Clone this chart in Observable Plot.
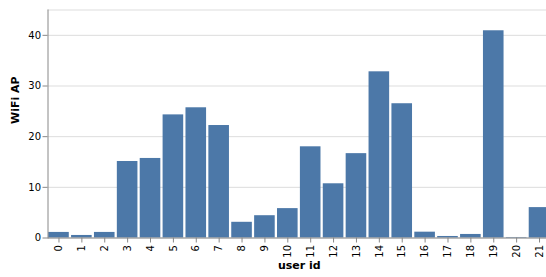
<!DOCTYPE html>
<html>
<head>
<meta charset="utf-8">
<script src="https://cdn.jsdelivr.net/npm/d3@7"></script>
<script src="https://cdn.jsdelivr.net/npm/@observablehq/plot@0.6"></script>
<style>
  html, body { margin: 0; padding: 0; background: white; overflow: hidden; }
  #chart { width: 546px; height: 277px; overflow: hidden; }
  #chart svg { max-width: none !important; }
</style>
</head>
<body>
<div id="chart"></div>
<script>
const userIds = ["0","1","2","3","4","5","6","7","8","9","10","11","12","13","14","15","16","17","18","19","20","21"];
const wifiAP = [1.1, 0.5, 1.1, 15.1, 15.7, 24.3, 25.7, 22.2, 3.1, 4.4, 5.8, 18.0, 10.7, 16.65, 32.8, 26.5, 1.15, 0.3, 0.7, 40.9, 0.1, 6.0];
const yTicks = [0, 10, 20, 30, 40];
const yMax = 45;

const data = userIds.map((id, i) => ({id, v: wifiAP[i]}));

const chart = Plot.plot({
  width: 550,
  height: 277,
  marginLeft: 47.5,
  marginRight: 0,
  marginTop: 9.5,
  marginBottom: 39.5,
  style: {fontFamily: "DejaVu Sans", fontSize: "10px", background: "white", color: "#000", maxWidth: "none"},
  x: {domain: userIds, paddingInner: 0.1, paddingOuter: 0.03, round: false, axis: null},
  y: {domain: [0, yMax], axis: null},
  marks: [
    Plot.gridY([...yTicks, yMax], {stroke: "#ddd", strokeOpacity: 1}),
    Plot.barY(data, {x: "id", y: "v", fill: "#4c78a8"}),
    Plot.ruleY([0], {stroke: "#888"}),
    Plot.frame({anchor: "left", stroke: "#888"}),
    Plot.axisY(yTicks, {tickSize: 5, tickPadding: 2, stroke: "#888", fill: "#000", label: null}),
    Plot.axisX({tickSize: 5, tickPadding: 2, tickRotate: -90, stroke: "#888", fill: "#000", label: null}),
    Plot.text(["user id"], {frameAnchor: "bottom", dy: 30.5, fontWeight: "bold", fontSize: 11, fill: "#000"}),
    Plot.text(["WiFi AP"], {frameAnchor: "left", dx: -33, rotate: -90, fontWeight: "bold", fontSize: 11, fill: "#000"})
  ]
});
document.getElementById("chart").appendChild(chart);
</script>
</body>
</html>
